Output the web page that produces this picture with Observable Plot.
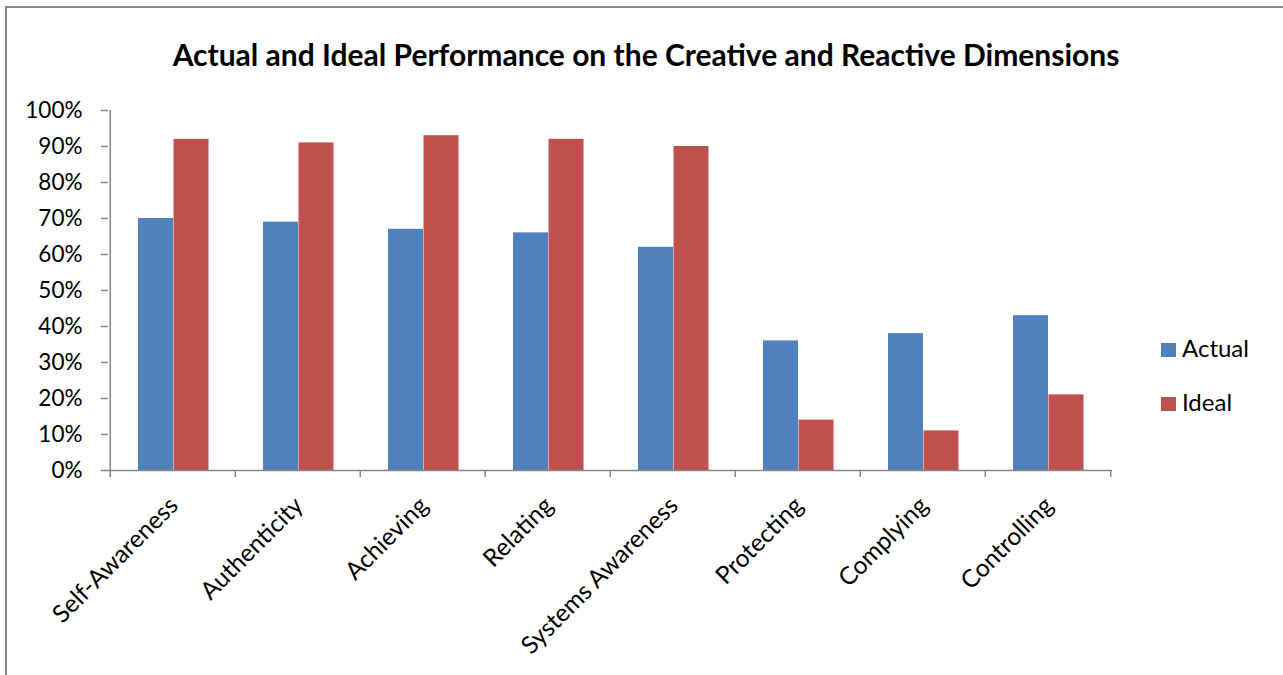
<!DOCTYPE html>
<html>
<head>
<meta charset="utf-8">
<script src="https://cdn.jsdelivr.net/npm/d3@7"></script>
<script src="https://cdn.jsdelivr.net/npm/@observablehq/plot@0.6"></script>
<style>
  html, body { margin: 0; padding: 0; background: #fff; }
  #wrap { position: relative; width: 1283px; height: 675px; overflow: hidden; font-family: Lato, "Open Sans", sans-serif; }
  #border { position: absolute; left: 5px; top: 6px; width: 1400px; height: 800px; border-left: 2px solid #8a8a8a; border-top: 2px solid #8a8a8a; }
  #title { position: absolute; left: 0; width: 1292px; top: 36px; text-align: center; font-size: 30px; font-weight: bold; color: #000; }
  #chart { position: absolute; left: 0; top: 0; }
  .leg { position: absolute; left: 1161px; font-size: 24px; color: #000; line-height: 1; }
  .leg span.sw { position: absolute; left: 0; width: 15px; height: 14px; }
  .leg span.lb { position: absolute; left: 21px; top: -7px; white-space: nowrap; }
</style>
</head>
<body>
<div id="wrap">
  <div id="border"></div>
  <div id="title">Actual and Ideal Performance on the Creative and Reactive Dimensions</div>
  <div id="chart"></div>
  <div id="legend"></div>
</div>
<script>
const categories = ["Self-Awareness", "Authenticity", "Achieving", "Relating", "Systems Awareness", "Protecting", "Complying", "Controlling"];
const actual = [0.70, 0.69, 0.67, 0.66, 0.62, 0.36, 0.38, 0.43];
const ideal  = [0.92, 0.91, 0.93, 0.92, 0.90, 0.14, 0.11, 0.21];
const series = ["Actual", "Ideal"];
const colors = ["#4F81BD", "#C0504D"];
const yTicks = [0, 0.1, 0.2, 0.3, 0.4, 0.5, 0.6, 0.7, 0.8, 0.9, 1.0];

const rowsActual = categories.map((c, i) => ({category: c, value: actual[i]}));
const rowsIdeal = categories.map((c, i) => ({category: c, value: ideal[i]}));

const W = 1283, H = 675, mL = 108, mR = 171, mT = 110, mB = 205;
const bw = (W - mL - mR) / categories.length;
const axisColor = "#868686";

const plot = Plot.plot({
  width: W, height: H,
  marginLeft: mL, marginRight: mR, marginTop: mT, marginBottom: mB,
  style: {fontFamily: "Lato, 'Open Sans', sans-serif", color: "#000", background: "transparent", overflow: "visible"},
  x: {domain: categories, padding: 0, axis: null, label: null},
  y: {domain: [0, 1], axis: null, label: null},
  marks: [
    Plot.barY(rowsActual, {x: "category", y: "value", fill: colors[0], insetLeft: bw * 0.223, insetRight: bw * 0.494}),
    Plot.barY(rowsIdeal, {x: "category", y: "value", fill: colors[1], insetLeft: bw * 0.506, insetRight: bw * 0.211}),
    // y axis line
    Plot.ruleX([categories[0]], {x: d => d, dx: -bw / 2, stroke: axisColor, strokeWidth: 1.5}),
    // x axis line
    Plot.ruleY([0], {stroke: axisColor, strokeWidth: 1.5}),
    // x boundary ticks
    Plot.ruleX(categories, {x: d => d, y1: 0, y2: 0, insetBottom: -7, dx: -bw / 2, stroke: axisColor, strokeWidth: 1.5}),
    Plot.ruleX([categories[categories.length - 1]], {x: d => d, y1: 0, y2: 0, insetBottom: -7, dx: bw / 2, stroke: axisColor, strokeWidth: 1.5}),
    Plot.axisY({ticks: yTicks, tickFormat: d3.format(".0%"), tickSize: 7, tickPadding: 19, fontSize: 22.5, stroke: axisColor, strokeWidth: 1.5, color: "#000", label: null}),
    Plot.axisX({tickSize: 0, tickRotate: -45, tickPadding: 31, dx: 1, fontSize: 24.5, color: "#000", label: null})
  ]
});
plot.querySelectorAll("text").forEach(t => t.setAttribute("fill", "#000"));
document.getElementById("chart").appendChild(plot);

const legend = document.getElementById("legend");
const legTops = [343, 397];
series.forEach((s, i) => {
  const d = document.createElement("div");
  d.className = "leg";
  d.style.top = legTops[i] + "px";
  d.innerHTML = `<span class="sw" style="background:${colors[i]}"></span><span class="lb">${s}</span>`;
  legend.appendChild(d);
});
</script>
</body>
</html>
